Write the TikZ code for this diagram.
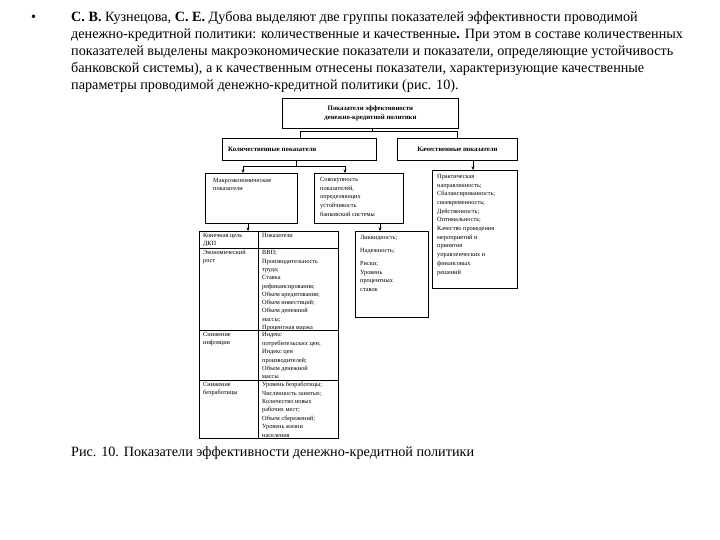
\documentclass[tikz,border=0pt]{standalone}
\usepackage{fontspec}
\setmainfont{Liberation Serif}
\usetikzlibrary{arrows.meta}
\begin{document}
\begin{tikzpicture}[x=1pt,y=-1pt,
  para/.style={font=\fontsize{14.2}{17}\selectfont, anchor=base west, inner sep=0},
  boxx/.style={draw, line width=0.9pt, inner sep=0, anchor=north west},
  dtext/.style={font=\fontsize{6.3}{8.4}\selectfont, align=left, anchor=north west, inner sep=0},
  btext/.style={font=\bfseries\fontsize{6.8}{9.5}\selectfont, inner sep=0},
  conn/.style={line width=0.7pt},
  arr/.style={line width=0.7pt, -{Stealth[length=3.5pt,width=3pt]}}
]
\useasboundingbox (0,0) rectangle (720,540);
\fill[white] (0,0) rectangle (720,540);

% paragraph
\node[para] (bul) at (31,22) {•};
\node[para] (l1) at (71,22) {\textbf{С. В.} Кузнецова, \textbf{С. Е.} Дубова выделяют две группы показателей эффективности проводимой};
\node[para] (l2) at (71,39) {денежно-кредитной политики: количественные и качественные\textbf{.} При этом в составе количественных};
\node[para] (l3) at (71,56) {показателей выделены макроэкономические показатели и показатели, определяющие устойчивость};
\node[para] (l4) at (71,73) {банковской системы), а к качественным отнесены показатели, характеризующие качественные};
\node[para] (l5) at (71,90) {параметры проводимой денежно-кредитной политики (рис. 10).};

% top box
\node[boxx, minimum width=176pt, minimum height=30pt] (top) at (282,98) {};
\node[btext, align=center] (toptxt) at (top.center) {Показатели эффективности\\денежно-кредитной политики};

% level 2
\node[boxx, minimum width=154pt, minimum height=22pt] (kol) at (222,138) {};
\node[btext, anchor=west] (koltxt) at ([xshift=6pt]kol.west) {Количественные показатели};
\node[boxx, minimum width=120pt, minimum height=22pt] (kach) at (397,138) {};
\node[btext, anchor=center] (kachtxt) at (kach.center) {Качественные показатели};

\coordinate (j0) at (372,131);
\coordinate (jl) at (300,131);
\coordinate (jr) at (457,131);
\draw[conn] (top.south -| j0) -- (j0);
\draw[conn] (jl) -- (jr);
\draw[conn] (jl) -- (jl |- kol.north);
\draw[conn] (jr) -- (jr |- kach.north);

% level 3
\node[boxx, minimum width=92pt, minimum height=50pt] (macro) at (205,173) {};
\node[dtext] (macrotxt) at (213,178) {Макроэкономические\\показатели};
\node[boxx, minimum width=89pt, minimum height=50pt] (bank) at (314,173) {};
\node[dtext, font=\fontsize{6.3}{8.7}\selectfont] (banktxt) at (320,177) {Совокупность\\показателей,\\определяющих\\устойчивость\\банковской системы};
\node[boxx, minimum width=85pt, minimum height=118pt] (qual) at (432,170) {};
\node[dtext, font=\fontsize{6.3}{8.7}\selectfont] (qualtxt) at (437,174) {Практическая\\направленность;\\Сбалансированность;\\своевременность;\\Действенность;\\Оптимальность;\\Качество проведения\\мероприятий и\\принятия\\управленческих и\\финансовых\\решений};

\coordinate (k0) at (296,166);
\coordinate (kl) at (243,166);
\coordinate (kr) at (345,166);
\draw[conn] (kol.south -| k0) -- (k0);
\draw[conn] (kl) -- (kr);
\draw[arr] (kl) -- (kl |- macro.north);
\draw[arr] (kr) -- (kr |- bank.north);
\draw[arr] (kach.south -| 473,0) -- (qual.north -| 473,0);

% table
\node[boxx, minimum width=139pt, minimum height=207pt] (tab) at (199,231) {};
\coordinate (c1) at (258,231);
\draw[conn] (c1) -- (c1 |- tab.south);
\draw[conn] (tab.west |- 0,248) -- (tab.east |- 0,248);
\draw[conn] (tab.west |- 0,330) -- (tab.east |- 0,330);
\draw[conn] (tab.west |- 0,380) -- (tab.east |- 0,380);
\node[dtext] (h1) at (203,233) {Конечная цель\\ДКП};
\node[dtext] (h2) at (262,233) {Показатели};
\node[dtext] (r1a) at (203,250) {Экономический\\рост};
\node[dtext, font=\fontsize{6.3}{8.3}\selectfont] (r1b) at (262,250.5) {ВВП;\\Производительность\\труда;\\Ставка\\рефинансирования;\\Объем кредитования;\\Объем инвестиций;\\Объем денежной\\массы;\\Процентная маржа};
\node[dtext] (r2a) at (203,332) {Снижение\\инфляции};
\node[dtext] (r2b) at (262,332.5) {Индекс\\потребительских цен;\\Индекс цен\\производителей;\\Объем денежной\\массы};
\node[dtext] (r3a) at (203,382) {Снижение\\безработицы};
\node[dtext] (r3b) at (262,382) {Уровень безработицы;\\Численность занятых;\\Количество новых\\рабочих мест;\\Объем сбережений;\\Уровень жизни\\населения};
\draw[arr] (macro.south -| 248,0) -- (tab.north -| 248,0);

% bank indicators
\node[boxx, minimum width=73pt, minimum height=86pt] (bind) at (355,231) {};
\node[dtext, font=\fontsize{6.3}{13}\selectfont] (bindtxt) at (360,235) {Ликвидность;\\Надежность;\\Риски;\\[-4.3pt]Уровень\\[-4.3pt]процентных\\[-4.3pt]ставок};
\draw[arr] (bank.south -| 380,0) -- (bind.north -| 380,0);

% caption
\node[para] (cap) at (71,456) {Рис. 10. Показатели эффективности денежно-кредитной политики};
\end{tikzpicture}
\end{document}
